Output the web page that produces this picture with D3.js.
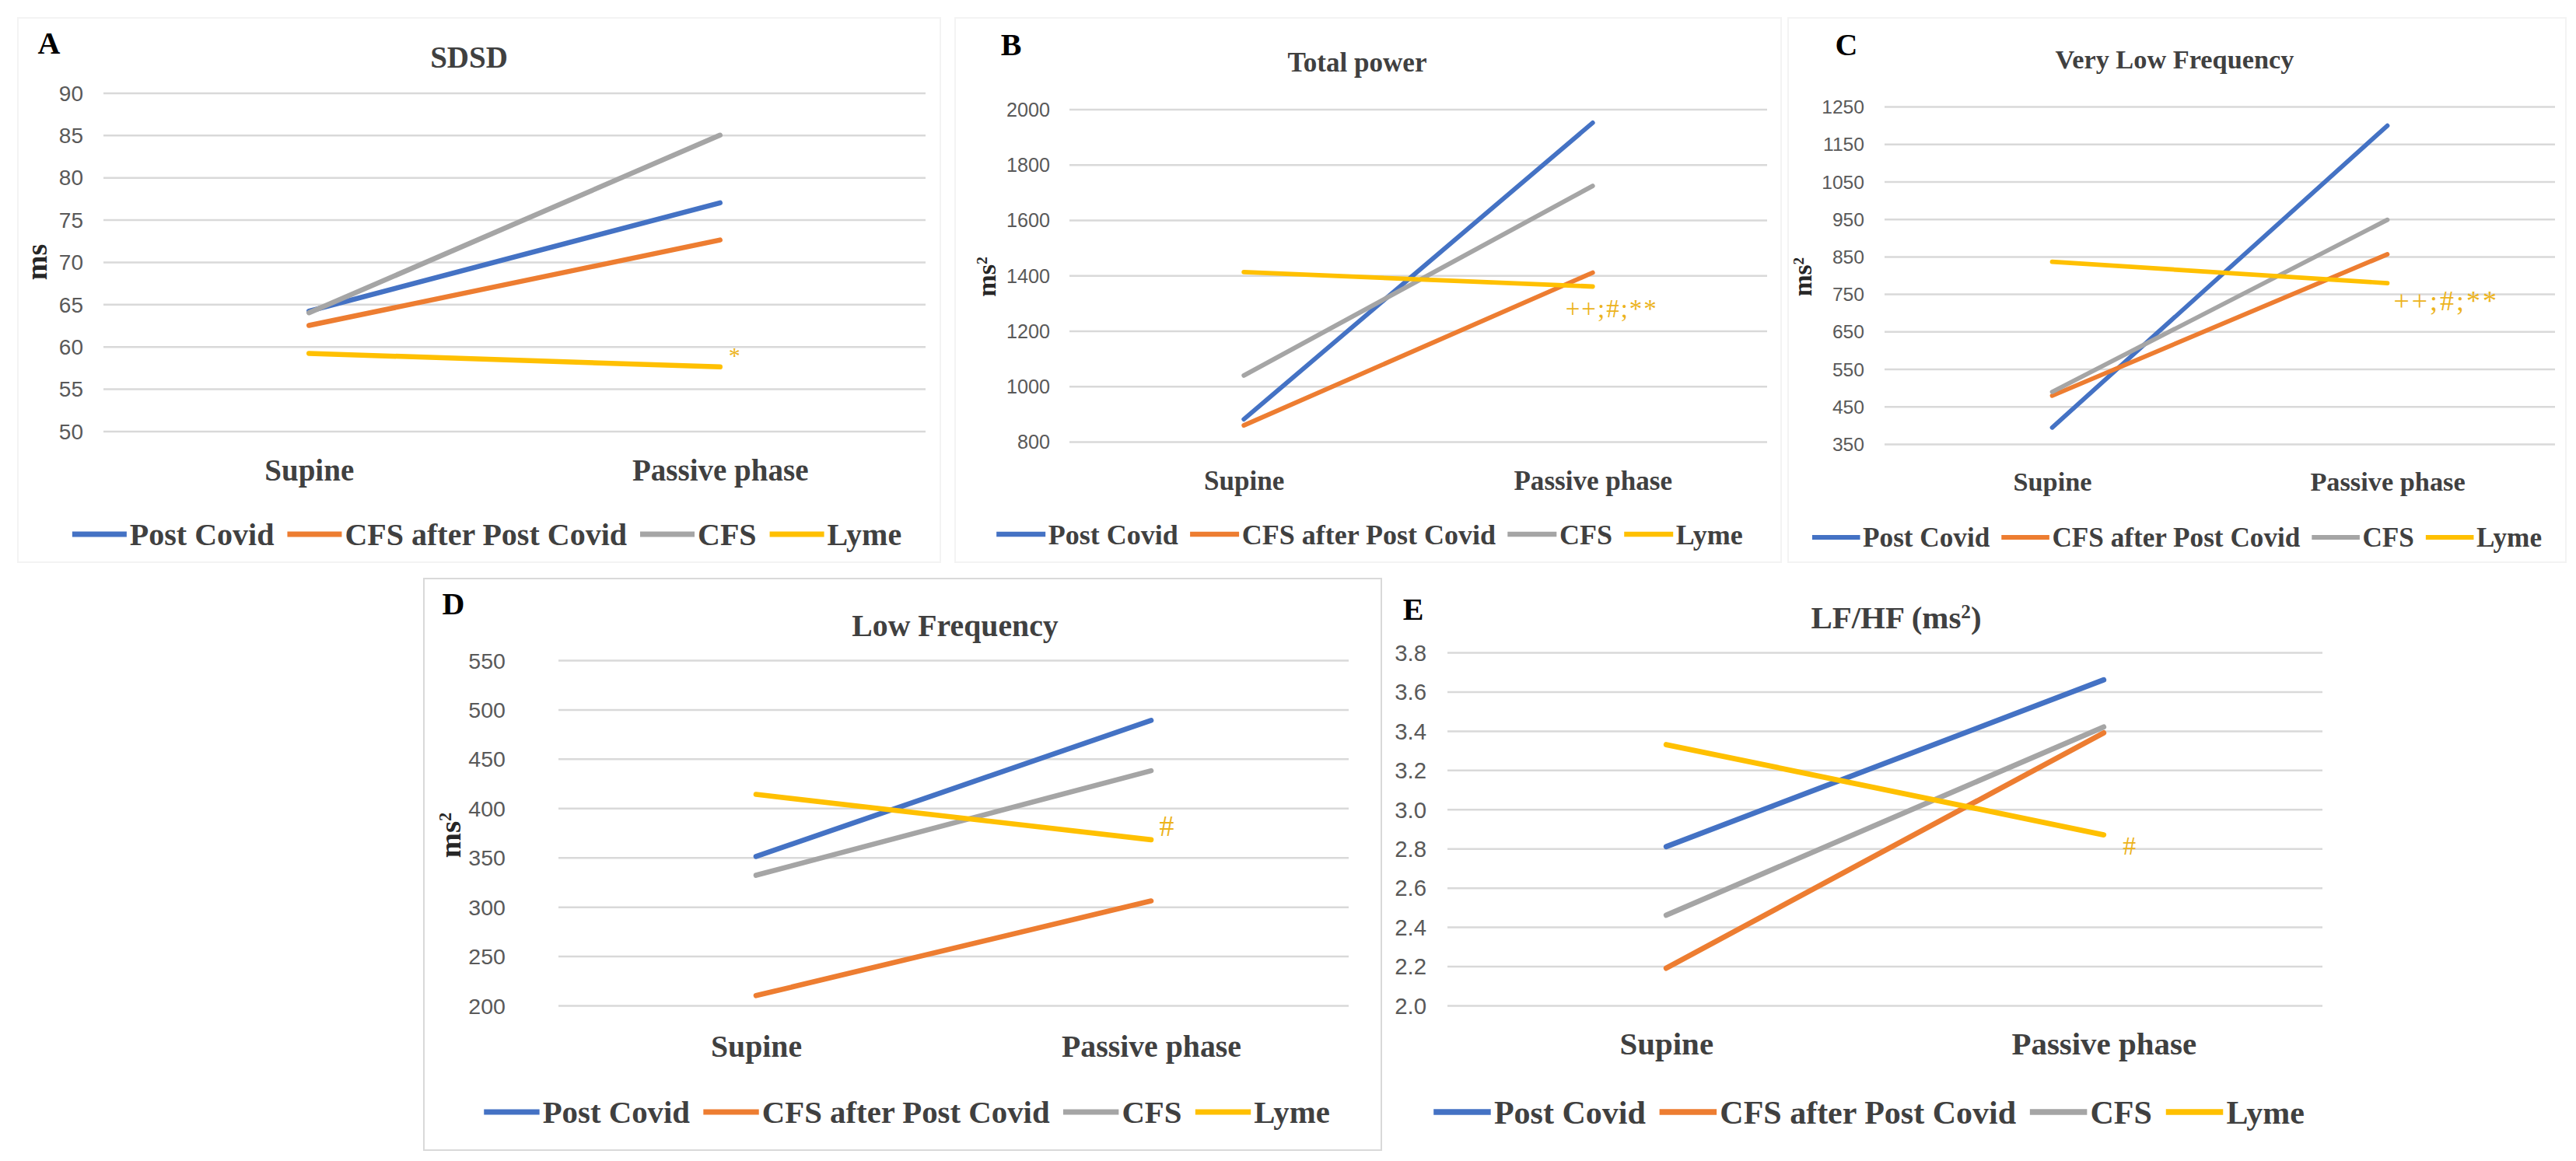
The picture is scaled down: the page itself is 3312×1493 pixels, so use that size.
<!DOCTYPE html>
<html>
<head>
<meta charset="utf-8">
<script src="https://cdn.jsdelivr.net/npm/d3@7"></script>
<style>
body{margin:0;background:#fff;}
</style>
</head>
<body>
<script>
/* HRV tilt test - five small line charts */
var phases = ["Supine", "Passive phase"];
var groups = ["Post Covid", "CFS after Post Covid", "CFS", "Lyme"];
var colors = ["#4472c4", "#ed7d31", "#a5a5a5", "#ffc000"];

// one row per group: [supine, passive phase]
var sdsd = [[64.2, 77.0], [62.5, 72.6], [64.0, 85.0], [59.2, 57.6]];
var totalPower = [[881, 1951], [859, 1410], [1039, 1723], [1412, 1360]];
var vlf = [[394, 1199], [479, 856], [489, 948], [836, 779]];
var lf = [[351, 489], [210, 306], [332, 438], [414, 368]];
var lfhf = [[2.81, 3.66], [2.19, 3.39], [2.46, 3.42], [3.33, 2.87]];

var sdsdTicks = [50, 55, 60, 65, 70, 75, 80, 85, 90];
var tpTicks = [800, 1000, 1200, 1400, 1600, 1800, 2000];
var vlfTicks = [350, 450, 550, 650, 750, 850, 950, 1050, 1150, 1250];
var lfTicks = [200, 250, 300, 350, 400, 450, 500, 550];
var lfhfTicks = [2.0, 2.2, 2.4, 2.6, 2.8, 3.0, 3.2, 3.4, 3.6, 3.8];

var letters = ["A", "B", "C", "D", "E"];
var titles = ["SDSD", "Total power", "Very Low Frequency", "Low Frequency", "LF/HF (ms"];
var units = ["ms", "ms", "ms", "ms", ""];
var marks = ["*", "++;#;**", "++;#;**", "#", "#"];

var allData = [sdsd, totalPower, vlf, lf, lfhf];
var allTicks = [sdsdTicks, tpTicks, vlfTicks, lfTicks, lfhfTicks];

// where each panel sits on the page
var layout = [
	{x0:133, x1:1190, yTop:119.4, yBot:554.5, k:1.0, tx:603, ty:73, lx:63, ly:55, ux:47, uy:337, catY:604, legX:626, legY:687, pad:26, mdx:18.5, mdy:-5, mfs:30, mls:0, manchor:"middle"},
	{x0:1375, x1:2272, yTop:140.4, yBot:568, k:0.9, tx:1745, ty:80, lx:1300, ly:57, ux:1268, uy:356, catY:618, legX:1761, legY:687, pad:25, mdx:-35, mdy:40, mfs:33, mls:2, manchor:"start"},
	{x0:2423, x1:3285, yTop:137, yBot:571, k:0.88, tx:2796, ty:76, lx:2374, ly:57, ux:2317, uy:356, catY:619, legX:2799, legY:691, pad:26, mdx:8, mdy:35, mfs:36, mls:3, manchor:"start"},
	{x0:718, x1:1734, yTop:849, yBot:1293, k:1.02, tx:1228, ty:804, lx:583, ly:776, ux:578, uy:1074, catY:1345, legX:1166, legY:1430, pad:68, mdx:20, mdy:-5, mfs:38, mls:0, manchor:"middle"},
	{x0:1861, x1:2986, yTop:839, yBot:1293, k:1.05, tx:2438, ty:794, lx:1817, ly:783, ux:0, uy:0, catY:1342, legX:2403, legY:1430, pad:27, mdx:33, mdy:25, mfs:34, mls:0, manchor:"middle"}
];

var serif = "'Liberation Serif','Times New Roman',serif";
var sans = "'Liberation Sans',Arial,sans-serif";

var svg = d3.select("body").append("svg").attr("width", 3312).attr("height", 1493);
svg.append("rect").attr("width", 3312).attr("height", 1493).attr("fill", "#fff");

// faint frames of the pasted chart images
var frames = [[23, 23, 1186, 700, "#f3f3f3"], [1228, 23, 1062, 700, "#f3f3f3"], [2299, 23, 1000, 700, "#f3f3f3"], [545, 744, 1231, 735, "#d9d9d9"]];
svg.selectAll(".frame").data(frames).enter().append("rect").attr("class", "frame")
	.attr("x", function(d){return d[0];}).attr("y", function(d){return d[1];})
	.attr("width", function(d){return d[2];}).attr("height", function(d){return d[3];})
	.attr("fill", "none").attr("stroke", function(d){return d[4];}).attr("stroke-width", 2);

layout.forEach(function(L, i){
	var data = allData[i], ticks = allTicks[i], k = L.k;
	var g = svg.append("g");

	var x = d3.scalePoint().domain(phases).range([L.x0, L.x1]).padding(0.5);
	var y = d3.scaleLinear().domain([ticks[0], ticks[ticks.length - 1]]).range([L.yBot, L.yTop]);

	// gridlines + tick labels
	var yAxis = d3.axisLeft(y).tickValues(ticks).tickSize(-(L.x1 - L.x0)).tickPadding(L.pad)
		.tickFormat(i == 4 ? d3.format(".1f") : d3.format("d"));
	var ya = g.append("g").attr("transform", "translate(" + L.x0 + ",0)").call(yAxis);
	ya.select(".domain").remove();
	ya.selectAll("line").attr("stroke", "#d9d9d9").attr("stroke-width", 2.5);
	ya.selectAll("text").attr("fill", "#595959").attr("font-family", sans).attr("font-size", 28 * k).attr("dy", "0.35em");

	// category labels
	var xAxis = d3.axisBottom(x).tickSize(0).tickPadding(0);
	var xa = g.append("g").attr("transform", "translate(0," + L.catY + ")").call(xAxis);
	xa.select(".domain").remove();
	xa.selectAll("text").attr("y", 0).attr("dy", "0.35em").attr("fill", "#404040")
		.attr("font-family", serif).attr("font-weight", "bold").attr("font-size", 39 * k);

	// series lines
	var line = d3.line().x(function(d, j){return x(phases[j]);}).y(function(d){return y(d);});
	g.selectAll(".series").data(data).enter().append("path").attr("class", "series")
		.attr("d", line).attr("fill", "none")
		.attr("stroke", function(d, j){return colors[j];})
		.attr("stroke-width", 6.5 * k).attr("stroke-linecap", "round");

	// significance marks next to the Lyme end point
	g.append("text").attr("x", x(phases[1]) + L.mdx).attr("y", y(data[3][1]) + L.mdy)
		.attr("text-anchor", L.manchor).attr("fill", "#ecb31c").attr("letter-spacing", L.mls)
		.attr("font-family", serif).attr("font-size", L.mfs).text(marks[i]);

	// title
	var t = g.append("text").attr("x", L.tx).attr("y", L.ty).attr("dy", "0.35em").attr("text-anchor", "middle")
		.attr("fill", "#404040").attr("font-family", serif).attr("font-weight", "bold").attr("font-size", 39 * k)
		.text(titles[i]);
	if (i == 4) {
		t.append("tspan").attr("baseline-shift", "super").attr("font-size", 24 * k).text("2");
		t.append("tspan").text(")");
	}

	// panel letter
	g.append("text").attr("x", L.lx).attr("y", L.ly).attr("dy", "0.35em").attr("text-anchor", "middle")
		.attr("fill", "#000").attr("font-family", serif).attr("font-weight", "bold").attr("font-size", 40)
		.text(letters[i]);

	// y unit
	if (units[i]) {
		var u = g.append("text").attr("transform", "translate(" + L.ux + "," + L.uy + ") rotate(-90)")
			.attr("dy", "0.35em").attr("text-anchor", "middle").attr("fill", "#262626")
			.attr("font-family", serif).attr("font-weight", "bold").attr("font-size", 38 * k)
			.text(units[i]);
		if (i > 0) u.append("tspan").attr("baseline-shift", "super").attr("font-size", 22 * k).text("2");
	}

	// legend
	var sw = 70 * k, gap1 = 4 * k, gap2 = 17 * k;
	var leg = g.append("g");
	var items = leg.selectAll(".item").data(groups).enter().append("g").attr("class", "item");
	items.append("line").attr("x1", 0).attr("x2", sw).attr("y1", 0).attr("y2", 0)
		.attr("stroke", function(d, j){return colors[j];}).attr("stroke-width", 7 * k);
	items.append("text").attr("x", sw + gap1).attr("dy", "0.35em").attr("fill", "#404040")
		.attr("font-family", serif).attr("font-weight", "bold").attr("font-size", 40 * k)
		.text(function(d){return d;});
	var pos = 0;
	items.each(function(){
		var w = d3.select(this).select("text").node().getComputedTextLength();
		d3.select(this).attr("transform", "translate(" + pos + ",0)");
		pos += sw + gap1 + w + gap2;
	});
	var total = pos - gap2;
	leg.attr("transform", "translate(" + (L.legX - total / 2) + "," + L.legY + ")");
});
</script>
</body>
</html>
